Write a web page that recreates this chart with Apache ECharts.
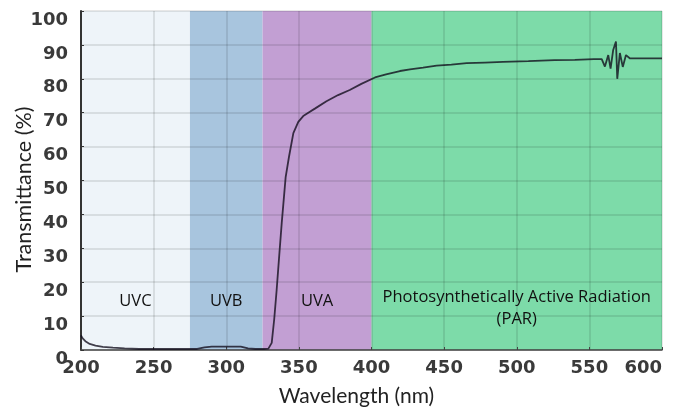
<!DOCTYPE html>
<html>
<head>
<meta charset="utf-8">
<script src="https://cdn.jsdelivr.net/npm/echarts@6/dist/echarts.min.js"></script>
<style>
  html, body { margin: 0; padding: 0; background: #fff; }
  #chart { width: 677px; height: 412px; }
</style>
</head>
<body>
<div id="chart"></div>
<script>
// wavelength (nm) and transmittance (%)
var wavelengths = [200, 201, 203, 206, 210, 215, 222, 230, 240, 260, 280, 285, 290, 300, 310, 315, 320, 326, 329,
    330, 331.3, 333, 334.7, 336.5, 338.2, 340.9, 343.2, 346.2, 349.6, 353, 356.5, 361, 369, 377,
    385, 393, 402.4, 410, 419.6, 426.5, 435.5, 444.8, 455, 465.5, 478, 490.5, 508, 526, 540, 553, 558.5, 560.7,
    563, 564.6, 566.4, 568.3, 569.2, 571, 573, 575.2, 578, 590, 600];
var transmittance = [4.3, 3.5, 2.6, 1.8, 1.3, 0.9, 0.7, 0.5, 0.3, 0.3, 0.3, 0.8, 1.0, 1.0, 1.0, 0.5, 0.3, 0.3, 0.4,
    0.6, 2.1, 9, 17.7, 28, 37.5, 51, 57, 64, 67.3, 69, 70, 71.2, 73.4, 75.2,
    76.7, 78.5, 80.4, 81.3, 82.3, 82.8, 83.3, 83.9, 84.2, 84.6, 84.8, 85, 85.2, 85.5, 85.6, 85.8, 85.8, 83.6,
    87, 83, 88.5, 91, 80, 87.6, 83.5, 87, 86, 86, 86];

// spectral bands
var bandNames = ['UVC', 'UVB', 'UVA', 'Photosynthetically Active Radiation\n(PAR)'];
var bandStart = [200, 275, 325, 400];
var bandEnd = [275, 325, 400, 600];
var bandColors = ['#eef4f9', '#a8c5de', '#c29fd3', '#7ddba9'];

var chart = echarts.init(document.getElementById('chart'));

var points = [];
for (var i = 0; i < wavelengths.length; i++) {
    points.push([wavelengths[i], transmittance[i]]);
}

var areas = [];
for (var j = 0; j < bandNames.length; j++) {
    var isPar = j === 3;
    areas.push([
        {
            name: bandNames[j],
            xAxis: bandStart[j],
            itemStyle: { color: bandColors[j] },
            label: {
                position: 'insideBottom',
                distance: isPar ? 20 : 39,
                lineHeight: isPar ? 22 : 20
            }
        },
        { xAxis: bandEnd[j] }
    ]);
}

var labelFont = {
    fontFamily: 'DejaVu Sans',
    fontWeight: 'bold',
    fontSize: 18,
    color: '#3a3a3a'
};

var option = {
    animation: false,
    backgroundColor: '#fff',
    grid: { left: 81, right: 15, top: 11, bottom: 62, containLabel: false, outerBoundsMode: 'none' },
    xAxis: {
        type: 'value',
        min: 200,
        max: 600,
        interval: 50,
        z: 2,
        name: 'Wavelength (nm)',
        nameLocation: 'middle',
        nameGap: 36,
        nameTextStyle: {
            fontFamily: 'Lato',
            fontSize: 21,
            color: '#222',
            padding: [0, 30, 0, 0]
        },
        axisLine: { lineStyle: { color: '#444', width: 1.5 } },
        axisTick: { inside: true, length: 3, lineStyle: { color: '#444' } },
        axisLabel: Object.assign({ margin: 9, alignMaxLabel: 'right' }, labelFont),
        splitLine: { show: true, lineStyle: { color: 'rgba(0,0,0,0.13)', width: 1.5 } }
    },
    yAxis: {
        type: 'value',
        min: 0,
        max: 100,
        interval: 10,
        z: 2,
        name: 'Transmittance (%)',
        nameLocation: 'middle',
        nameGap: 46,
        nameMoveOverlap: false,
        nameTextStyle: {
            fontFamily: 'Lato',
            fontSize: 21.5,
            color: '#222',
            padding: [0, 18, 0, 0]
        },
        axisLine: { show: true, lineStyle: { color: '#333', width: 2 } },
        axisTick: { show: true, inside: true, length: 3, lineStyle: { color: '#333' } },
        axisLabel: Object.assign({ margin: 13, verticalAlign: 'top' }, labelFont),
        splitLine: { show: true, lineStyle: { color: 'rgba(0,0,0,0.13)', width: 1.5 } }
    },
    series: [
        {
            type: 'line',
            z: 3,
            data: points,
            showSymbol: false,
            lineStyle: { color: 'rgba(15,10,25,0.78)', width: 1.8 },
            markArea: {
                z: 1,
                silent: true,
                label: {
                    show: true,
                    fontFamily: 'Open Sans',
                    fontSize: 16.5,
                    color: '#111'
                },
                data: areas
            }
        }
    ]
};

chart.setOption(option);
</script>
</body>
</html>
